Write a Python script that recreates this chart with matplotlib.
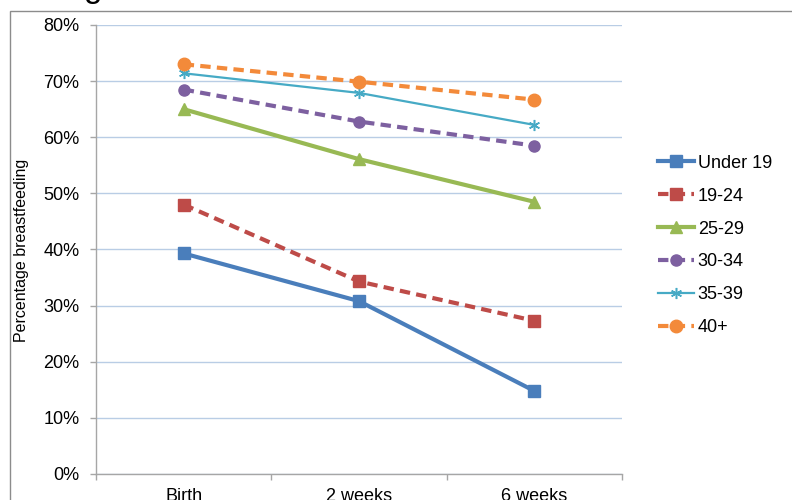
import matplotlib
matplotlib.use("Agg")
import matplotlib.pyplot as plt
from matplotlib.patches import Rectangle
from matplotlib.ticker import FuncFormatter, FixedLocator

plt.rcParams['font.family'] = ['Liberation Sans', 'DejaVu Sans']

stages = ["Birth", "2 weeks", "6 weeks"]
age_groups = ["Under 19", "19-24", "25-29", "30-34", "35-39", "40+"]
under_19 = [39.3, 30.8, 14.8]
age_19_24 = [48.0, 34.3, 27.3]
age_25_29 = [65.0, 56.1, 48.5]
age_30_34 = [68.5, 62.8, 58.5]
age_35_39 = [71.4, 67.9, 62.2]
age_40_plus = [73.0, 69.9, 66.7]

series = [under_19, age_19_24, age_25_29, age_30_34, age_35_39, age_40_plus]
colors = ["#4A7EBB", "#BE4B48", "#98B954", "#7D60A0", "#46AAC5", "#F38A3A"]
markers = ["s", "s", "^", "o", (6, 2, 0), "o"]
dashed = [False, True, False, True, False, True]
widths = [3.0, 3.0, 3.0, 3.0, 1.6, 3.0]
msizes = [8, 9, 9, 8, 8, 9]

fig = plt.figure(figsize=(7.92, 5.0), dpi=100)
ax = fig.add_axes([96 / 792, 1 - 474 / 500, (622 - 96) / 792, (474 - 25) / 500])

x = list(range(len(stages)))
for vals, name, c, m, d, lw, ms in zip(series, age_groups, colors, markers, dashed, widths, msizes):
    kw = dict(color=c, lw=lw, marker=m, markersize=ms, label=name,
              markerfacecolor=c, markeredgecolor=c, zorder=3)
    if m == (6, 2, 0):
        kw["markeredgewidth"] = 1.1
    line, = ax.plot(x, vals, **kw)
    if d:
        line.set_dashes((2.5, 1.5))

ax.set_xlim(-0.5, 2.5)
ax.set_ylim(0, 80)
ax.set_yticks(range(0, 81, 10))
ax.yaxis.set_major_formatter(FuncFormatter(lambda v, p: f"{int(v)}%"))
ax.set_xticks(x)
ax.set_xticklabels(stages)
ax.xaxis.set_minor_locator(FixedLocator([-0.5, 0.5, 1.5, 2.5]))
ax.tick_params(axis='x', which='major', length=0, pad=10, labelsize=13)
ax.tick_params(axis='x', which='minor', length=4.5, color="#A6A6A6", width=1)
ax.tick_params(axis='y', length=4.5, color="#A6A6A6", width=1, labelsize=13, pad=7.5)

ax.grid(axis='y', color="#B9CDE5", lw=1)
ax.set_axisbelow(True)
for s in ["top", "right"]:
    ax.spines[s].set_visible(False)
for s in ["left", "bottom"]:
    ax.spines[s].set_color("#A6A6A6")
    ax.spines[s].set_linewidth(1)

fig.text(22 / 792, 1 - 250 / 500, "Percentage breastfeeding", rotation=90,
         ha='center', va='center', fontsize=11.5)

leg = fig.legend(loc='center left', bbox_to_anchor=(658 / 792, 1 - 245.5 / 500),
                 frameon=False, fontsize=13, borderpad=0, borderaxespad=0,
                 handlelength=2.0, handletextpad=0.2, labelspacing=0.88)

# Outer chart frame
fig.patches.append(Rectangle((10 / 792, -0.1), 1.0, 1 - 11 / 500 + 0.1,
                             transform=fig.transFigure, fill=False,
                             edgecolor="#8C8C8C", lw=1))

# Title descender visible above the frame
fig.text(93 / 792, 1.006, "g", ha='center', va='baseline', fontsize=24)

fig.savefig("out.png", dpi=100)
